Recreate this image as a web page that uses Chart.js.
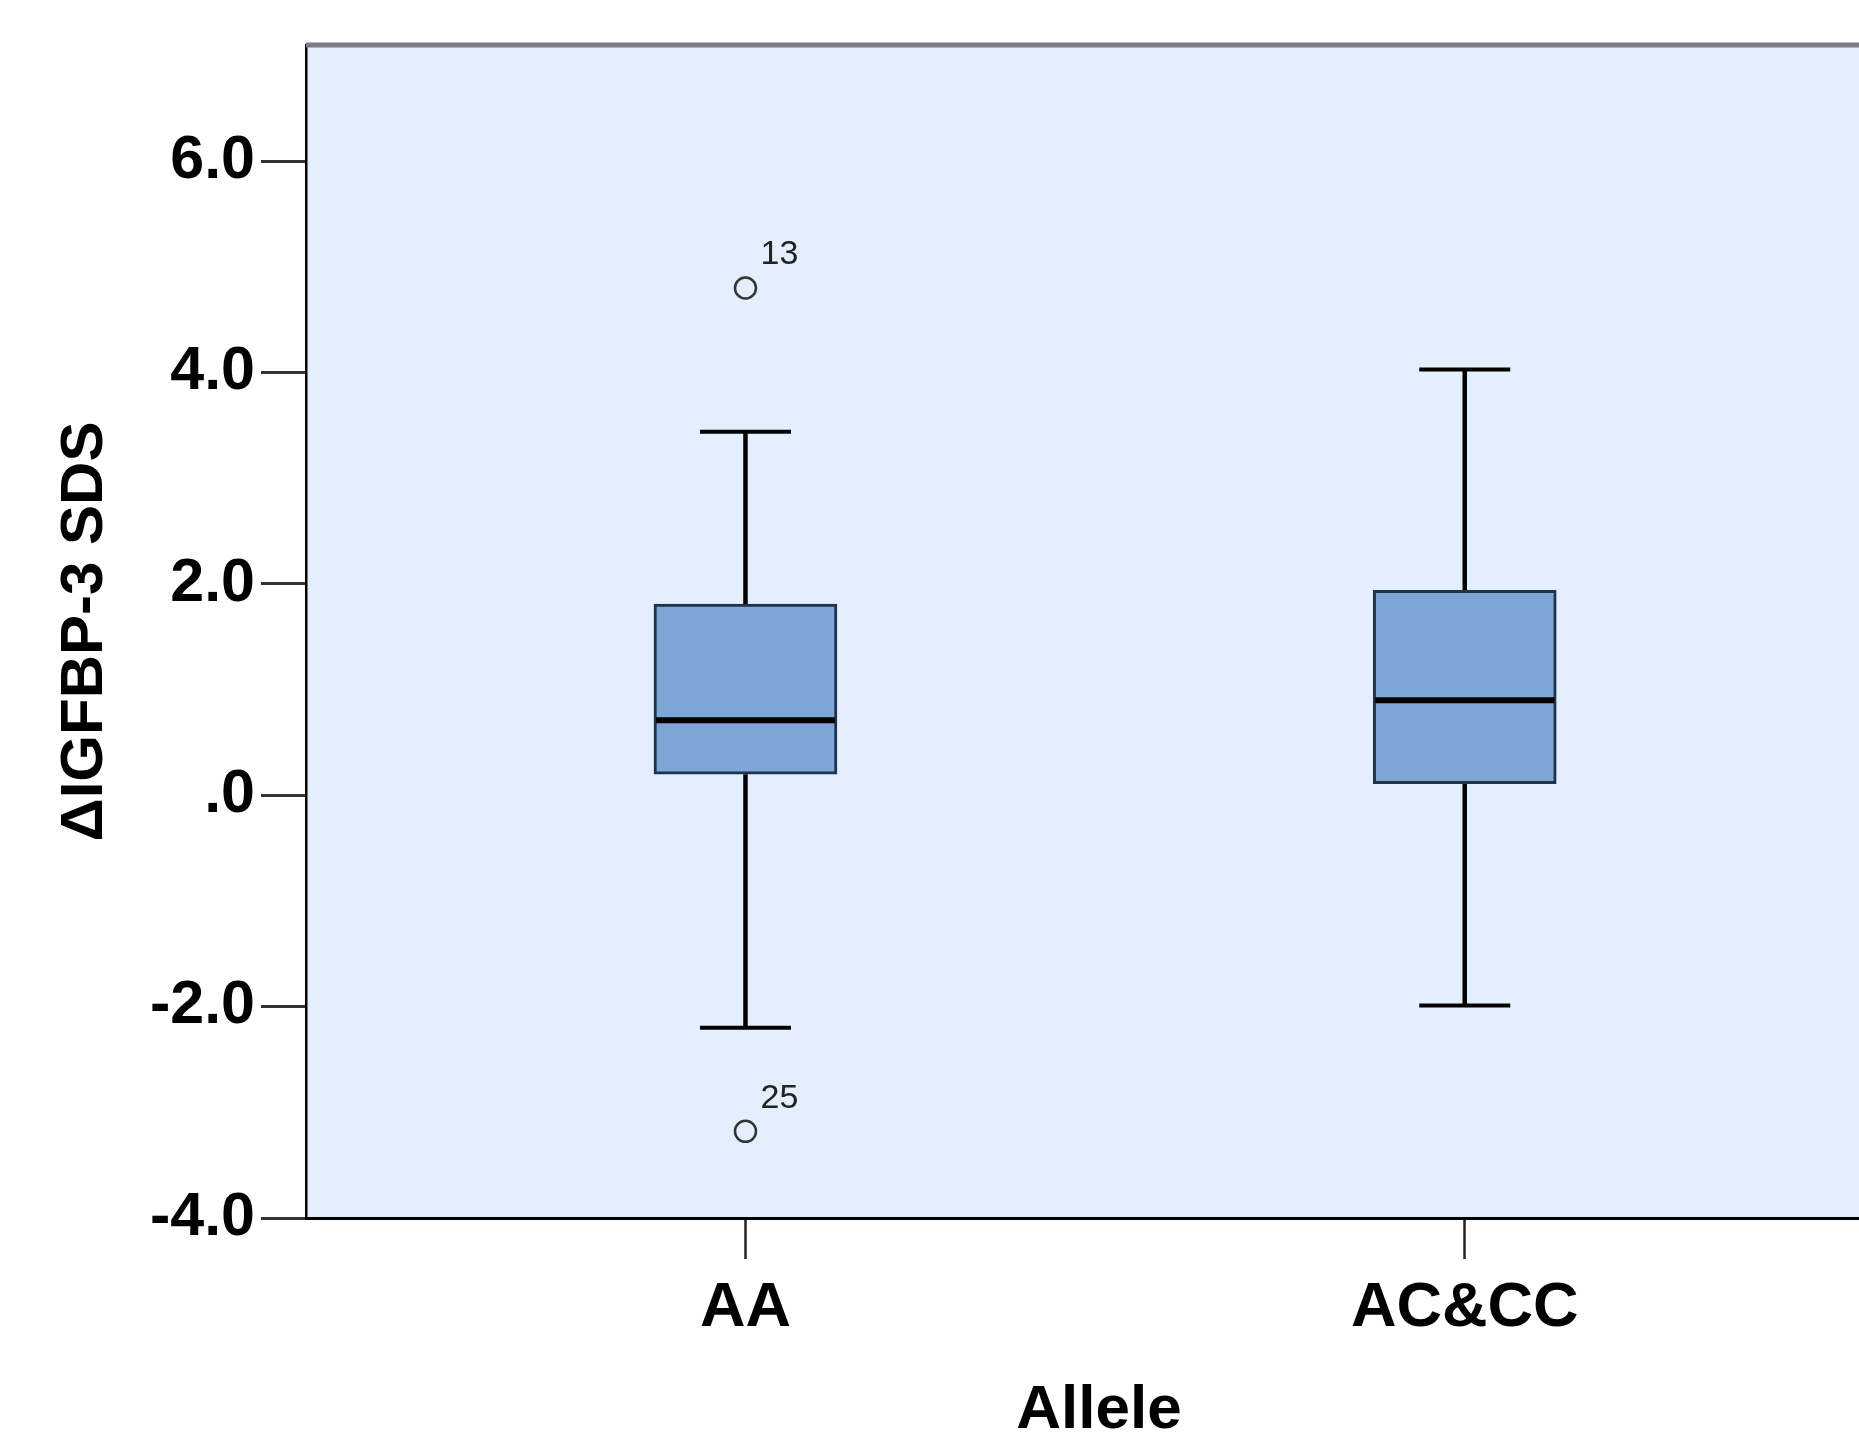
<!DOCTYPE html>
<html>
<head>
<meta charset="utf-8">
<title>ΔIGFBP-3 SDS by Allele</title>
<script src="https://cdn.jsdelivr.net/npm/chart.js@4.4.1/dist/chart.umd.min.js"></script>
<style>
  html, body { margin: 0; padding: 0; background: #fff; overflow: hidden; }
  #chart { display: block; }
</style>
</head>
<body>
<canvas id="chart" width="1905" height="1447"></canvas>
<script>
// Data
const categories = ["AA", "AC&CC"];
const whiskerLow = [-2.2, -1.99];
const quartile1 = [0.2, 0.11];
const medians = [0.71, 0.9];
const quartile3 = [1.81, 1.94];
const whiskerHigh = [3.44, 4.03];
const outlierGroup = [0, 0]; // index into categories
const outlierValues = [4.8, -3.18];
const outlierIds = ["13", "25"];
const yTicks = [-4, -2, 0, 2, 4, 6];

// Settings
const yMin = -4;
const yMax = 7.1;
const xMin = 0.389;
const xMax = 2.594;
const plotBackground = "#e3effc";
const boxFill = "#7ba6d5";
const boxBorder = "#22324a";
const capWidth = 91;
const boxWidth = 183;

Chart.defaults.font.family = "'Liberation Sans', Arial, sans-serif";
Chart.defaults.color = "#000";

const boxPlotExtras = {
  id: "boxPlotExtras",
  beforeDraw(chart) {
    const { ctx, chartArea: a } = chart;
    ctx.save();
    ctx.fillStyle = plotBackground;
    ctx.fillRect(a.left, a.top, a.right - a.left, a.bottom - a.top);
    ctx.restore();
  },
  beforeDatasetsDraw(chart) {
    // whiskers and caps
    const { ctx, scales: { x, y } } = chart;
    ctx.save();
    ctx.strokeStyle = "#000";
    categories.forEach((c, i) => {
      const px = x.getPixelForValue(i + 1);
      ctx.lineWidth = 4.5;
      ctx.beginPath();
      ctx.moveTo(px, y.getPixelForValue(quartile3[i]));
      ctx.lineTo(px, y.getPixelForValue(whiskerHigh[i]));
      ctx.moveTo(px, y.getPixelForValue(quartile1[i]));
      ctx.lineTo(px, y.getPixelForValue(whiskerLow[i]));
      ctx.stroke();
      ctx.lineWidth = 4;
      ctx.beginPath();
      [whiskerHigh[i], whiskerLow[i]].forEach((v) => {
        const py = y.getPixelForValue(v);
        ctx.moveTo(px - capWidth / 2, py);
        ctx.lineTo(px + capWidth / 2, py);
      });
      ctx.stroke();
    });
    ctx.restore();
  },
  afterDatasetsDraw(chart) {
    const { ctx, chartArea: a, scales: { x, y } } = chart;
    ctx.save();
    // medians
    ctx.strokeStyle = "#000";
    ctx.lineWidth = 6;
    categories.forEach((c, i) => {
      const px = x.getPixelForValue(i + 1);
      const py = y.getPixelForValue(medians[i]);
      ctx.beginPath();
      ctx.moveTo(px - boxWidth / 2 + 2, py);
      ctx.lineTo(px + boxWidth / 2 - 2, py);
      ctx.stroke();
    });
    // outlier case numbers
    ctx.fillStyle = "#222";
    ctx.font = "34px 'Liberation Sans', Arial, sans-serif";
    ctx.textBaseline = "middle";
    outlierValues.forEach((v, k) => {
      const px = x.getPixelForValue(outlierGroup[k] + 1);
      const py = y.getPixelForValue(v);
      ctx.fillText(outlierIds[k], px + 15, py - 33);
    });
    // top frame line
    ctx.strokeStyle = "#7b7f84";
    ctx.lineWidth = 5;
    ctx.beginPath();
    ctx.moveTo(a.left, a.top);
    ctx.lineTo(a.right, a.top);
    ctx.stroke();
    ctx.restore();
  },
};

new Chart(document.getElementById("chart"), {
  type: "bar",
  data: {
    datasets: [
      {
        label: "IQR",
        data: categories.map((c, i) => ({ x: i + 1, y: [quartile1[i], quartile3[i]] })),
        backgroundColor: boxFill,
        borderColor: boxBorder,
        borderWidth: 3,
        borderSkipped: false,
        barThickness: boxWidth,
      },
      {
        type: "scatter",
        label: "Outliers",
        data: outlierValues.map((v, k) => ({ x: outlierGroup[k] + 1, y: v })),
        pointRadius: 10.5,
        pointBorderWidth: 2.5,
        borderColor: "#333",
        backgroundColor: "rgba(0,0,0,0)",
      },
    ],
  },
  options: {
    responsive: false,
    animation: false,
    devicePixelRatio: 1,
    layout: { padding: { top: 45, left: 0, right: 0, bottom: 0 } },
    plugins: {
      legend: { display: false },
      tooltip: { enabled: false },
    },
    scales: {
      x: {
        type: "linear",
        min: xMin,
        max: xMax,
        offset: false,
        afterBuildTicks: (scale) => {
          scale.ticks = categories.map((c, i) => ({ value: i + 1 }));
        },
        afterFit: (scale) => {
          scale.height = 229;
        },
        ticks: {
          callback: (v) => categories[v - 1] ?? "",
          font: { size: 63, weight: "bold" },
          color: "#000",
          padding: 12,
          maxRotation: 0,
          autoSkip: false,
        },
        grid: {
          offset: false,
          drawOnChartArea: false,
          drawTicks: true,
          tickLength: 41,
          tickColor: "#222",
          tickWidth: 2.5,
        },
        border: { display: true, color: "#000", width: 3 },
        title: {
          display: true,
          text: "Allele",
          font: { size: 62, weight: "bold", lineHeight: 1 },
          padding: { top: 0, bottom: 5 },
          color: "#000",
        },
      },
      y: {
        type: "linear",
        min: yMin,
        max: yMax,
        afterBuildTicks: (scale) => {
          scale.ticks = yTicks.map((v) => ({ value: v }));
        },
        afterFit: (scale) => {
          scale.width = 306;
        },
        ticks: {
          callback: (v) => (v === 0 ? ".0" : v.toFixed(1)),
          font: { size: 61, weight: "bold" },
          color: "#000",
          padding: 6,
        },
        grid: {
          drawOnChartArea: false,
          drawTicks: true,
          tickLength: 45,
          tickColor: "#333",
          tickWidth: 3,
        },
        border: { display: true, color: "#000", width: 2.5 },
        title: {
          display: true,
          text: "ΔIGFBP-3 SDS",
          font: { size: 60, weight: "bold", lineHeight: 1 },
          padding: { top: 55, bottom: 0 },
          color: "#000",
        },
      },
    },
  },
  plugins: [boxPlotExtras],
});
</script>
</body>
</html>
